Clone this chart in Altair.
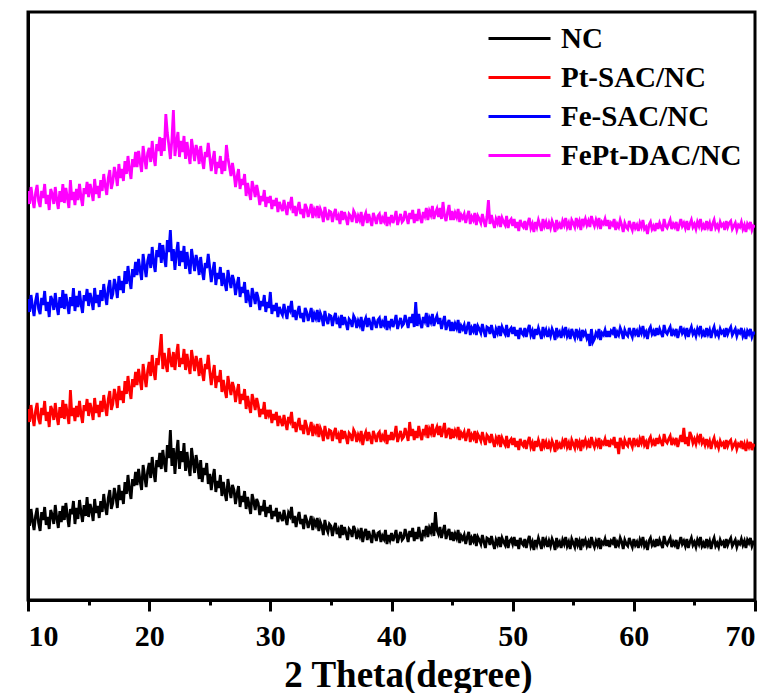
import altair as alt
import pandas as pd

names = ["NC", "Pt-SAC/NC", "Fe-SAC/NC", "FePt-DAC/NC"]
colors = ["#000000", "#ff0000", "#0000ff", "#ff00ff"]
all_ticks = [10, 15, 20, 25, 30, 35, 40, 45, 50, 55, 60, 65, 70]
x_start = 10
x_step = 0.125  # 8 readings per degree, one row per degree below

nc = [
    86, 74, 91, 79, 70, 84, 92, 77,
    69, 88, 80, 93, 75, 83, 71, 90,
    85, 76, 95, 82, 72, 89, 78, 94,
    80, 97, 84, 73, 91, 86, 99, 76,
    92, 81, 100, 88, 78, 95, 84, 103,
    83, 96, 90, 79, 101, 87, 94, 82,
    99, 88, 106, 93, 85, 102, 110, 91,
    97, 112, 104, 92, 115, 100, 109, 96,
    118, 106, 125, 110, 101, 121, 114, 128,
    115, 131, 119, 110, 135, 124, 113, 129,
    137, 122, 143, 128, 118, 140, 133, 147,
    131, 150, 137, 128, 155, 142, 170, 134,
    152, 126, 146, 160, 131, 149, 138, 157,
    129, 148, 134, 124, 152, 139, 127, 145,
    135, 121, 140, 118, 132, 125, 137, 116,
    126, 110, 122, 131, 108, 119, 112, 125,
    104, 118, 107, 99, 121, 111, 102, 115,
    110, 96, 106, 114, 93, 104, 98, 109,
    91, 103, 95, 86, 106, 99, 90, 101,
    97, 85, 94, 89, 100, 83, 93, 87,
    95, 81, 89, 84, 92, 78, 88, 83,
    79, 90, 82, 75, 87, 84, 93, 77,
    84, 73, 82, 88, 76, 81, 71, 85,
    80, 72, 78, 84, 70, 79, 75, 82,
    69, 78, 74, 65, 80, 72, 68, 76,
    74, 64, 72, 77, 66, 70, 62, 75,
    65, 73, 67, 60, 71, 69, 63, 74,
    70, 61, 68, 64, 72, 58, 67, 71,
    60, 69, 63, 57, 70, 65, 59, 67,
    68, 58, 64, 61, 70, 56, 65, 60,
    67, 59, 64, 70, 57, 63, 68, 60,
    62, 71, 65, 58, 69, 63, 72, 59,
    68, 61, 73, 64, 59, 70, 66, 74,
    63, 72, 68, 77, 64, 88, 70, 66,
    73, 62, 69, 75, 61, 67, 71, 60,
    68, 59, 66, 62, 70, 57, 64, 61,
    65, 56, 63, 68, 55, 62, 59, 66,
    54, 63, 60, 56, 65, 58, 52, 62,
    61, 55, 64, 57, 51, 60, 56, 63,
    53, 62, 58, 55, 64, 52, 59, 61,
    56, 63, 54, 60, 51, 62, 57, 55,
    61, 52, 59, 64, 54, 58, 50, 60,
    55, 62, 57, 51, 63, 56, 60, 53,
    59, 54, 61, 57, 50, 62, 55, 58,
    52, 60, 56, 63, 54, 58, 51, 61,
    57, 53, 62, 55, 59, 50, 61, 56,
    60, 54, 58, 52, 63, 57, 53, 59,
    55, 62, 51, 58, 56, 61, 54, 60,
    53, 59, 57, 63, 52, 58, 55, 62,
    58, 51, 60, 56, 54, 62, 57, 53,
    61, 55, 58, 52, 60, 56, 63, 54,
    57, 50, 59, 62, 55, 58, 53, 61,
    54, 60, 56, 52, 64, 57, 55, 59,
    62, 53, 58, 55, 60, 51, 57, 63,
    56, 59, 54, 61, 52, 58, 62, 55,
    58, 53, 60, 56, 63, 54, 57, 52,
    61, 55, 59, 51, 58, 62, 54, 57,
    53, 60, 56, 58, 52, 61, 55, 59,
    62, 54, 57, 60, 53, 58, 56, 61,
    55, 59, 52, 60, 57, 62, 54, 58,
    58,
]

pt_sac = [
    191, 178, 195, 183, 174, 189, 197, 181,
    176, 192, 185, 199, 179, 188, 173, 194,
    190, 180, 197, 184, 175, 193, 182, 200,
    181, 196, 186, 176, 210, 184, 192, 179,
    194, 183, 199, 186, 177, 195, 189, 201,
    184, 197, 190, 180, 202, 187, 195, 183,
    199, 188, 205, 193, 184, 201, 209, 190,
    196, 211, 204, 192, 214, 200, 209, 197,
    219, 206, 224, 210, 201, 221, 213, 228,
    215, 231, 220, 210, 236, 224, 213, 229,
    238, 224, 245, 229, 220, 242, 235, 249,
    266, 231, 247, 236, 228, 252, 240, 233,
    248, 230, 245, 256, 233, 242, 236, 251,
    230, 246, 235, 226, 250, 239, 229, 244,
    237, 224, 242, 228, 219, 236, 231, 245,
    229, 215, 226, 235, 212, 224, 218, 230,
    208, 220, 210, 202, 224, 214, 205, 218,
    212, 198, 208, 216, 196, 206, 200, 211,
    191, 204, 195, 187, 206, 199, 190, 202,
    195, 183, 191, 186, 198, 181, 190, 185,
    190, 177, 186, 180, 188, 174, 184, 179,
    174, 185, 177, 170, 183, 179, 188, 172,
    178, 168, 176, 182, 170, 175, 166, 180,
    174, 165, 171, 178, 164, 172, 168, 176,
    163, 172, 168, 159, 174, 166, 161, 170,
    169, 159, 167, 172, 161, 165, 157, 170,
    161, 169, 163, 156, 167, 165, 159, 170,
    167, 158, 165, 161, 169, 155, 164, 168,
    159, 168, 162, 156, 169, 164, 158, 166,
    168, 158, 164, 161, 170, 156, 165, 160,
    168, 160, 165, 174, 158, 164, 169, 161,
    163, 172, 166, 159, 178, 164, 171, 160,
    169, 162, 174, 165, 160, 171, 167, 175,
    162, 171, 167, 176, 163, 169, 173, 165,
    174, 163, 170, 177, 162, 168, 172, 161,
    171, 162, 169, 165, 173, 160, 167, 164,
    168, 159, 166, 171, 158, 165, 162, 169,
    157, 166, 163, 159, 168, 161, 155, 165,
    163, 157, 166, 159, 153, 162, 158, 165,
    153, 162, 158, 155, 164, 152, 159, 161,
    155, 162, 153, 159, 150, 161, 156, 154,
    160, 151, 158, 163, 153, 157, 149, 159,
    153, 160, 155, 149, 161, 154, 158, 151,
    157, 152, 159, 155, 148, 160, 153, 156,
    151, 159, 155, 162, 153, 157, 150, 160,
    156, 152, 161, 154, 158, 149, 160, 155,
    160, 154, 158, 152, 163, 157, 153, 159,
    155, 162, 151, 158, 156, 161, 154, 160,
    153, 159, 157, 163, 152, 158, 146, 162,
    158, 151, 160, 156, 154, 162, 157, 153,
    162, 156, 159, 153, 161, 157, 164, 155,
    158, 151, 160, 163, 156, 159, 154, 162,
    156, 162, 158, 154, 166, 159, 157, 161,
    164, 155, 160, 157, 162, 153, 159, 165,
    158, 172, 156, 163, 154, 168, 164, 157,
    161, 156, 163, 159, 166, 157, 160, 155,
    161, 155, 159, 151, 158, 162, 154, 157,
    152, 159, 155, 157, 151, 160, 154, 158,
    160, 152, 155, 158, 151, 156, 154, 159,
    151, 156, 149, 157, 153, 158, 150, 155,
    154,
]

fe_sac = [
    301, 288, 305, 293, 284, 299, 307, 291,
    286, 302, 295, 309, 289, 298, 283, 304,
    300, 290, 307, 294, 285, 303, 292, 310,
    291, 306, 296, 286, 303, 294, 312, 289,
    304, 293, 309, 296, 287, 305, 299, 311,
    294, 307, 300, 290, 312, 297, 305, 293,
    310, 299, 316, 304, 295, 312, 320, 301,
    306, 321, 314, 302, 324, 310, 319, 307,
    329, 316, 334, 320, 311, 331, 323, 338,
    325, 341, 330, 320, 346, 334, 323, 339,
    346, 332, 353, 337, 328, 350, 343, 357,
    337, 355, 342, 333, 360, 348, 370, 339,
    351, 330, 347, 358, 334, 349, 338, 354,
    331, 348, 336, 326, 351, 340, 329, 345,
    338, 325, 343, 329, 320, 337, 332, 346,
    332, 318, 329, 338, 315, 327, 321, 333,
    314, 327, 317, 309, 330, 321, 312, 325,
    319, 305, 315, 323, 303, 313, 307, 318,
    297, 310, 301, 293, 312, 305, 296, 308,
    302, 290, 299, 294, 305, 288, 298, 292,
    308, 286, 295, 289, 297, 283, 293, 288,
    285, 296, 288, 281, 294, 290, 299, 283,
    290, 280, 288, 294, 282, 287, 278, 292,
    288, 279, 285, 292, 278, 286, 282, 290,
    278, 287, 283, 274, 289, 281, 276, 285,
    284, 274, 282, 287, 276, 280, 272, 285,
    275, 283, 277, 270, 281, 279, 273, 284,
    281, 272, 279, 275, 283, 269, 278, 282,
    273, 282, 276, 270, 283, 278, 272, 280,
    282, 272, 278, 275, 284, 270, 279, 274,
    281, 273, 278, 285, 271, 277, 282, 274,
    276, 285, 279, 272, 283, 277, 286, 273,
    298, 274, 286, 277, 272, 283, 279, 287,
    273, 282, 278, 286, 274, 280, 284, 276,
    282, 271, 278, 284, 270, 276, 280, 269,
    278, 269, 276, 272, 280, 267, 274, 271,
    275, 266, 273, 278, 265, 272, 269, 276,
    265, 274, 271, 267, 276, 269, 263, 273,
    272, 266, 275, 268, 262, 271, 267, 274,
    264, 273, 269, 266, 275, 263, 270, 272,
    266, 273, 264, 270, 261, 272, 267, 265,
    272, 263, 270, 275, 265, 269, 261, 271,
    265, 272, 267, 261, 273, 266, 270, 263,
    269, 264, 271, 267, 260, 272, 265, 268,
    262, 270, 266, 273, 264, 268, 261, 271,
    266, 262, 271, 264, 268, 259, 270, 265,
    268, 262, 266, 254, 271, 258, 261, 267,
    264, 271, 260, 267, 265, 270, 263, 269,
    263, 269, 267, 273, 262, 268, 265, 272,
    268, 261, 270, 266, 264, 272, 267, 263,
    272, 266, 269, 263, 271, 267, 274, 265,
    268, 261, 270, 273, 266, 269, 264, 272,
    265, 271, 267, 263, 275, 268, 266, 270,
    273, 264, 269, 266, 271, 262, 268, 274,
    267, 270, 265, 272, 263, 269, 273, 266,
    269, 264, 271, 267, 274, 265, 268, 263,
    272, 266, 270, 262, 269, 273, 265, 268,
    264, 271, 267, 269, 263, 272, 266, 270,
    273, 265, 268, 271, 264, 269, 267, 272,
    264, 268, 261, 269, 266, 271, 263, 267,
    267,
]

fept_dac = [
    409, 396, 413, 401, 392, 407, 415, 399,
    393, 409, 402, 416, 396, 405, 390, 411,
    406, 396, 413, 400, 391, 409, 398, 416,
    397, 412, 402, 392, 420, 400, 408, 395,
    411, 400, 416, 403, 394, 412, 406, 418,
    403, 416, 409, 399, 421, 406, 414, 402,
    420, 409, 426, 414, 405, 422, 430, 411,
    418, 433, 426, 414, 436, 422, 431, 419,
    439, 426, 444, 430, 421, 441, 433, 448,
    433, 449, 438, 428, 454, 442, 431, 447,
    452, 438, 459, 443, 434, 456, 449, 463,
    444, 462, 449, 486, 467, 455, 441, 460,
    490, 444, 457, 468, 443, 459, 448, 464,
    441, 458, 446, 436, 461, 450, 439, 455,
    449, 436, 454, 440, 431, 448, 443, 457,
    443, 429, 440, 449, 426, 438, 432, 444,
    426, 439, 429, 455, 442, 433, 424, 437,
    427, 413, 423, 431, 411, 421, 415, 426,
    404, 417, 408, 400, 419, 412, 403, 415,
    407, 395, 404, 399, 410, 393, 403, 397,
    404, 391, 400, 394, 402, 388, 398, 393,
    389, 400, 392, 385, 398, 394, 403, 387,
    394, 384, 392, 398, 386, 391, 382, 396,
    392, 383, 389, 396, 382, 390, 386, 394,
    382, 391, 387, 378, 393, 385, 380, 389,
    388, 378, 386, 391, 380, 384, 376, 389,
    380, 388, 382, 375, 386, 384, 378, 389,
    386, 377, 384, 380, 388, 374, 383, 387,
    377, 386, 380, 374, 387, 382, 376, 384,
    386, 376, 382, 379, 388, 374, 383, 378,
    385, 377, 382, 389, 375, 381, 386, 378,
    380, 389, 383, 376, 387, 381, 390, 377,
    386, 379, 391, 382, 377, 388, 384, 392,
    380, 389, 385, 394, 381, 387, 391, 383,
    392, 381, 398, 384, 379, 388, 395, 380,
    389, 380, 387, 383, 391, 378, 385, 382,
    386, 377, 384, 389, 376, 383, 380, 387,
    375, 384, 381, 377, 386, 379, 373, 383,
    400, 376, 385, 378, 372, 381, 377, 384,
    373, 382, 378, 375, 384, 372, 379, 381,
    374, 381, 372, 378, 369, 380, 375, 373,
    379, 370, 377, 382, 372, 376, 368, 378,
    373, 380, 375, 369, 381, 374, 378, 371,
    377, 372, 379, 375, 368, 380, 373, 376,
    371, 379, 375, 382, 373, 377, 370, 380,
    377, 373, 382, 375, 379, 370, 381, 376,
    381, 375, 379, 373, 384, 378, 374, 380,
    375, 382, 371, 378, 376, 381, 374, 380,
    371, 377, 375, 381, 370, 376, 373, 380,
    375, 368, 377, 373, 371, 379, 374, 370,
    378, 372, 375, 369, 377, 373, 380, 371,
    373, 366, 375, 378, 371, 374, 369, 377,
    371, 377, 373, 369, 381, 374, 372, 376,
    380, 371, 376, 373, 378, 369, 375, 381,
    374, 377, 372, 379, 370, 376, 380, 373,
    376, 371, 378, 374, 381, 372, 375, 370,
    379, 373, 377, 369, 376, 380, 372, 375,
    371, 378, 374, 376, 370, 379, 373, 377,
    379, 371, 374, 377, 370, 375, 373, 378,
    371, 375, 368, 376, 373, 378, 370, 374,
    373,
]

series = [nc, pt_sac, fe_sac, fept_dac]
rows = []
for name, vals in zip(names, series):
    for i, v in enumerate(vals):
        rows.append({"theta": x_start + x_step * i, "intensity": v, "sample": name})
df = pd.DataFrame(rows)

serif = "Liberation Serif"

chart = (
    alt.Chart(df)
    .mark_line(strokeWidth=2.8, clip=True)
    .encode(
        x=alt.X(
            "theta:Q",
            scale=alt.Scale(domain=[10, 70], nice=False, zero=False),
            axis=alt.Axis(
                values=all_ticks,
                labelExpr="datum.value % 10 === 0 ? datum.label : ''",
                tickSize={"condition": {"test": "datum.value % 10 === 0", "value": 11}, "value": 5},
                tickWidth=3,
                tickColor="black",
                domainWidth=3,
                domainColor="black",
                grid=False,
                labelFont=serif,
                labelFontWeight="bold",
                labelFontSize=30,
                labelColor="black",
                labelPadding=10,
                title="2 Theta(degree)",
                titleFont=serif,
                titleFontWeight="bold",
                titleFontSize=37,
                titleColor="black",
                titlePadding=6,
                titleX=380,
                titleAlign="center",
            ),
        ),
        y=alt.Y(
            "intensity:Q",
            scale=alt.Scale(domain=[0, 588], nice=False, zero=False),
            axis=alt.Axis(labels=False, ticks=False, title=None, grid=False,
                          domainWidth=3, domainColor="black"),
        ),
        color=alt.Color(
            "sample:N",
            scale=alt.Scale(domain=names, range=colors),
            legend=alt.Legend(
                title=None,
                orient="none",
                legendX=477,
                legendY=12,
                symbolType="M-3,0H3",
                symbolSize=427,
                symbolStrokeWidth=3,
                labelOffset=27,
                labelFont=serif,
                labelFontWeight="bold",
                labelFontSize=29,
                labelColor="black",
                labelLimit=400,
                rowPadding=9,
                padding=0,
            ),
        ),
    )
    .properties(
        width=727,
        height=588,
        padding={"left": 18, "top": 4, "right": 5, "bottom": 0},
        background="white",
    )
    .configure_view(stroke="black", strokeWidth=3)
)

chart.save("out.html", embed_options={"renderer": "svg", "actions": False})
